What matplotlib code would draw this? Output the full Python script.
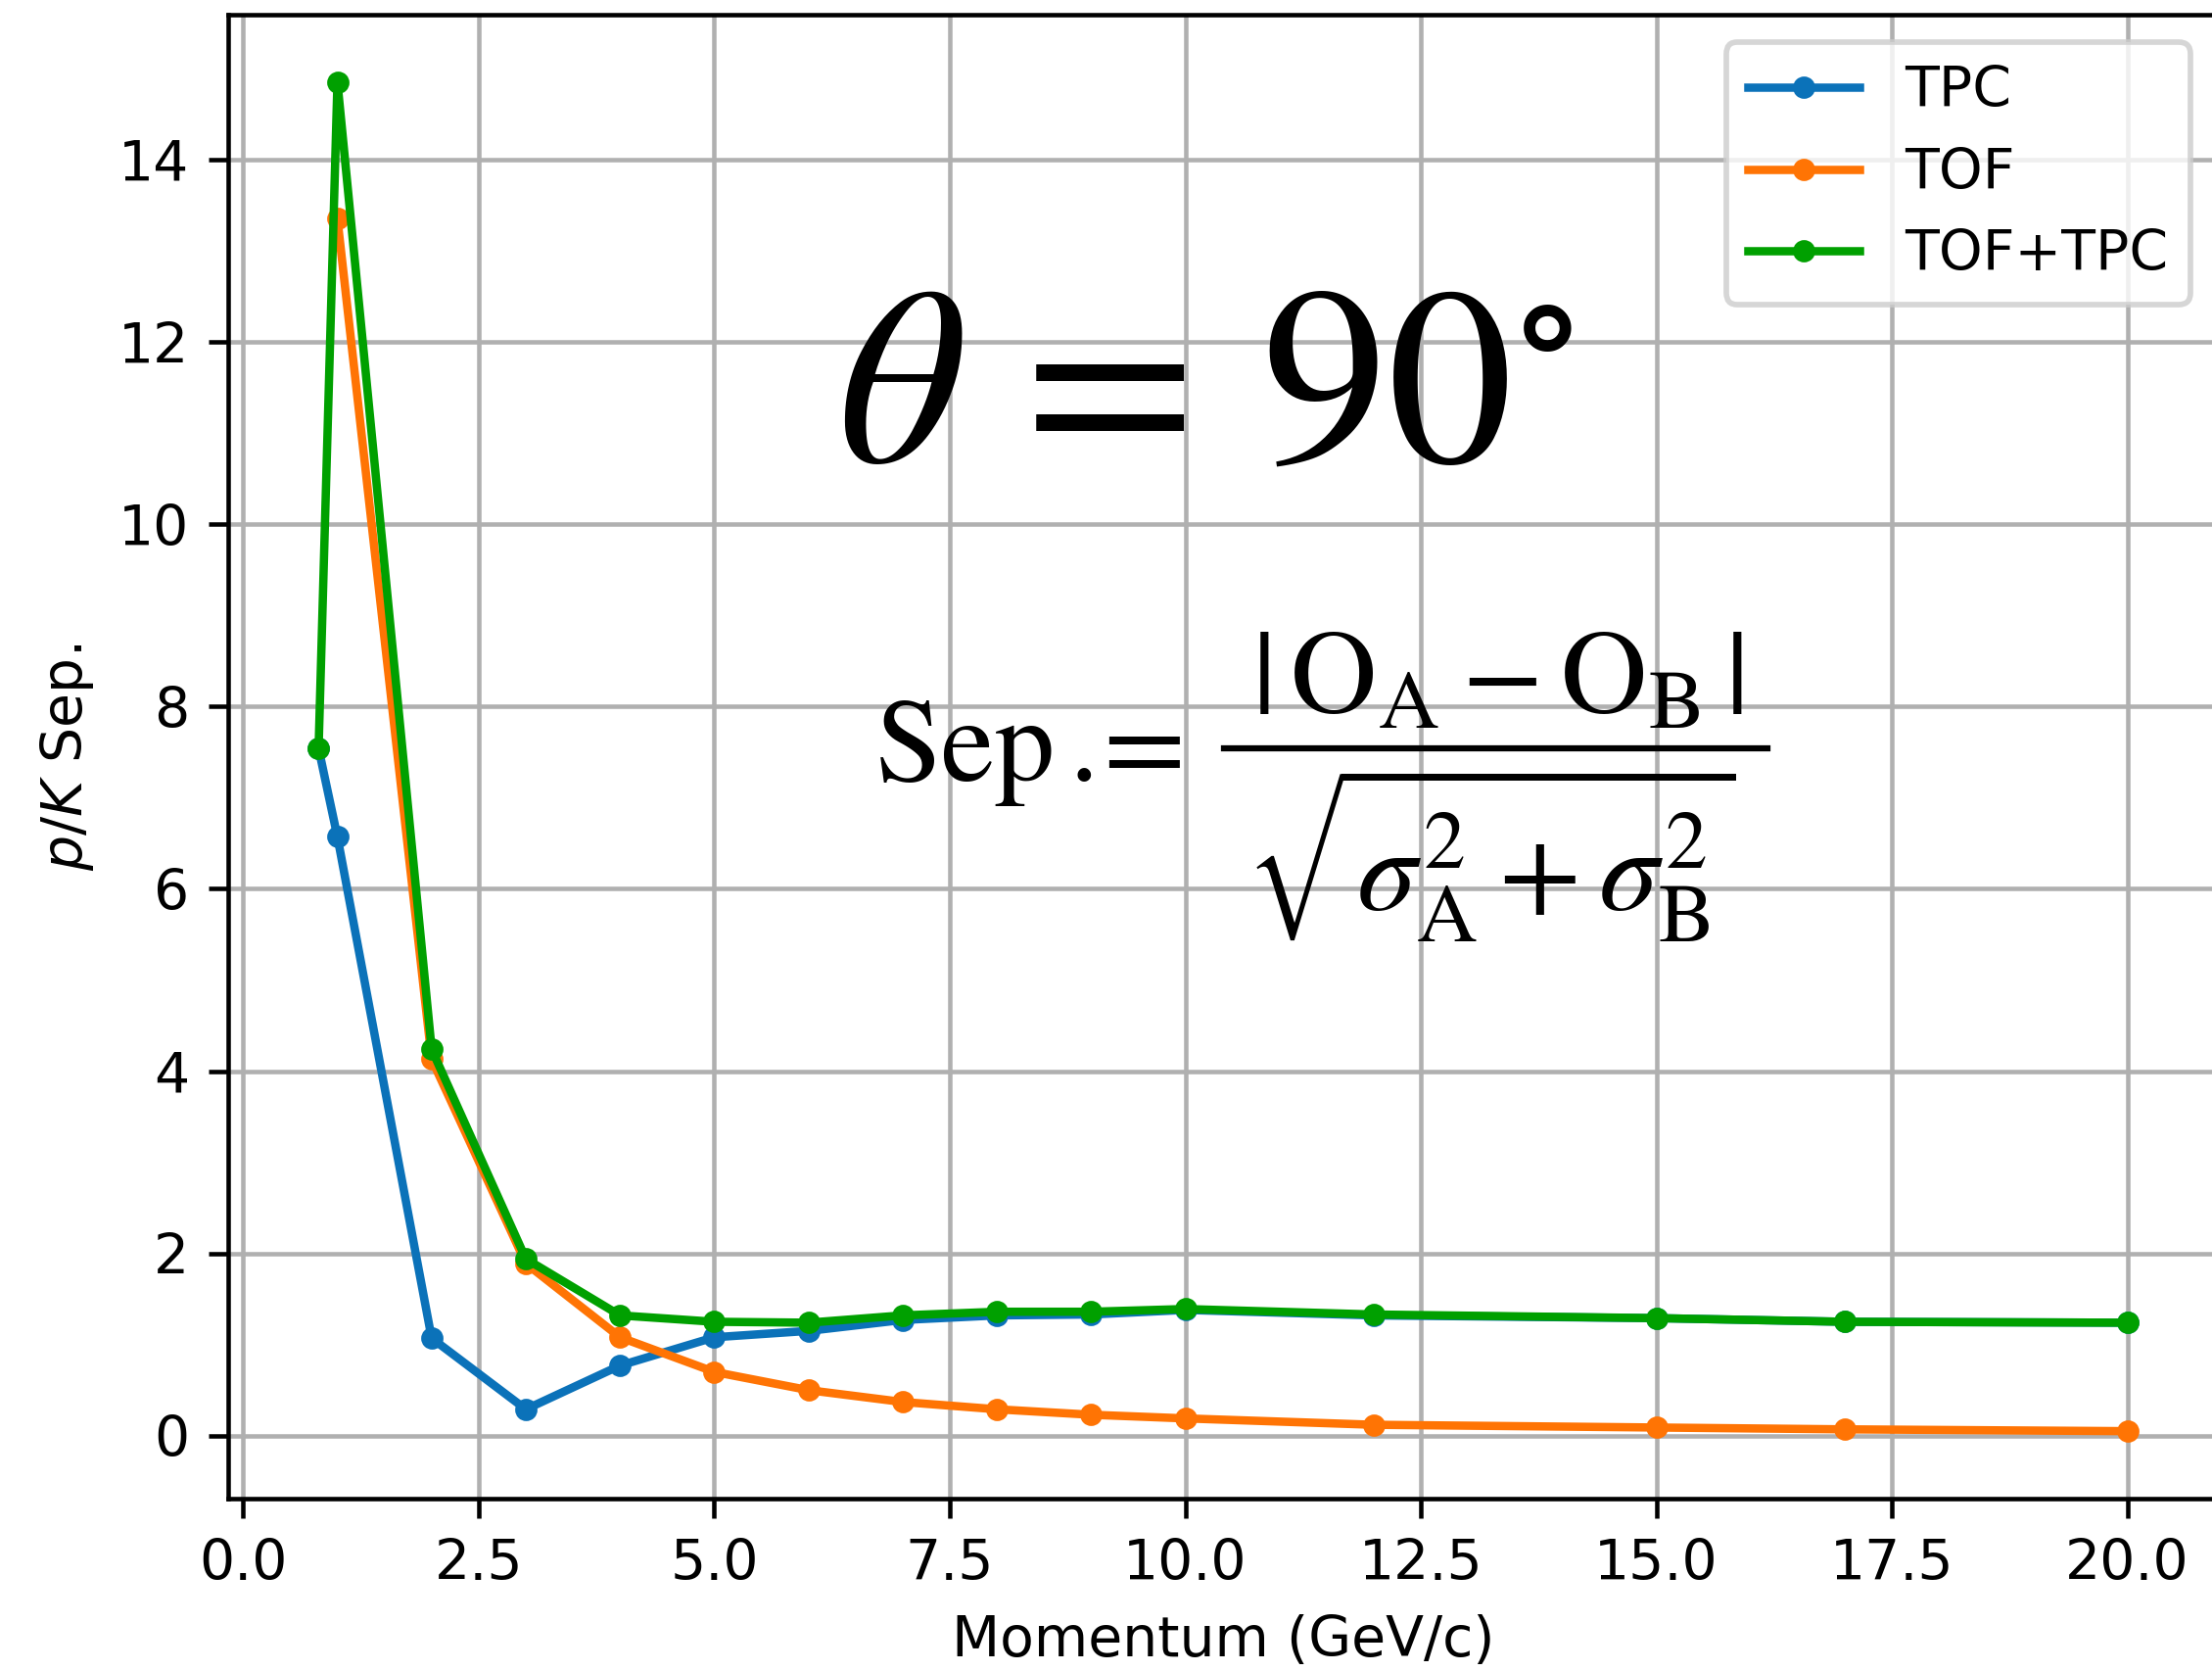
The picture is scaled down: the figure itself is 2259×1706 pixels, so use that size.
#!/usr/bin/env python3
"""p/K separation vs momentum at theta = 90 deg (TPC, TOF, combined)."""

import matplotlib

matplotlib.use("Agg")
import matplotlib.pyplot as plt
from matplotlib.lines import Line2D

# momentum points (GeV/c)
p_tpc = [0.8, 1, 2, 3, 4, 5, 6, 7, 8, 9, 10, 12, 15, 17, 20]
p_tof = [1, 2, 3, 4, 5, 6, 7, 8, 9, 10, 12, 15, 17, 20]
p_comb = [0.8, 1, 2, 3, 4, 5, 6, 7, 8, 9, 10, 12, 15, 17, 20]

sep_tpc = [7.54, 6.57, 1.07, 0.29, 0.77, 1.08, 1.15, 1.27, 1.32, 1.33, 1.38, 1.32, 1.29, 1.25, 1.24]
sep_tof = [13.35, 4.13, 1.89, 1.08, 0.70, 0.50, 0.37, 0.29, 0.23, 0.19, 0.12, 0.09, 0.07, 0.05]
sep_comb = [7.54, 14.85, 4.24, 1.94, 1.32, 1.25, 1.24, 1.32, 1.36, 1.36, 1.39, 1.33, 1.29, 1.25, 1.24]

W, H = 2259, 1706
DPI = 409.5


def fx(px):
    return px / W


def fy(px):
    return 1 - px / H


fig = plt.figure(figsize=(W / DPI, H / DPI), dpi=DPI)
fig.patch.set_facecolor("#FFFFFF")
ax = fig.add_axes([fx(233), fy(1530), 2032 / W, 1515 / H])

ax.plot(p_tpc, sep_tpc, marker=".", color="#0b72b9", label="TPC")
ax.plot(p_tof, sep_tof, marker=".", color="#ff7404", label="TOF")
ax.plot(p_comb, sep_comb, marker=".", color="#00a000", label="TOF+TPC")

ax.set_xlabel("Momentum (GeV/c)")
ax.set_ylabel("$p/K$ Sep.")
ax.grid(True)
ax.legend(loc="upper right")

# annotations (pasted-equation look, Times-like math font)
fig.text(fx(1231), fy(400), r"$\theta\,=\,90^{\circ}$",
         fontsize=45, math_fontfamily="stix", ha="center", va="center")

eq_size = 21.5
fig.text(fx(893), fy(797), r"$\mathrm{Sep\,.}$",
         fontsize=eq_size, math_fontfamily="stix", ha="left", va="baseline")
fig.text(fx(1158), fy(797), r"$=$",
         fontsize=eq_size, math_fontfamily="stix", ha="center", va="baseline")
fig.text(fx(1529), fy(727), r"$|\,\mathrm{O_A} - \mathrm{O_B}\,|$",
         fontsize=eq_size, math_fontfamily="stix", ha="center", va="baseline")
fig.add_artist(Line2D([fx(1250), fx(1805)], [fy(764), fy(764)],
                      transform=fig.transFigure, color="black", linewidth=1.1))
fig.text(fx(1522), fy(929), r"$\sqrt{\sigma_\mathrm{A}^2 + \sigma_\mathrm{B}^2}$",
         fontsize=eq_size, math_fontfamily="stix", ha="center", va="baseline")

fig.savefig("out.png", dpi=DPI)
